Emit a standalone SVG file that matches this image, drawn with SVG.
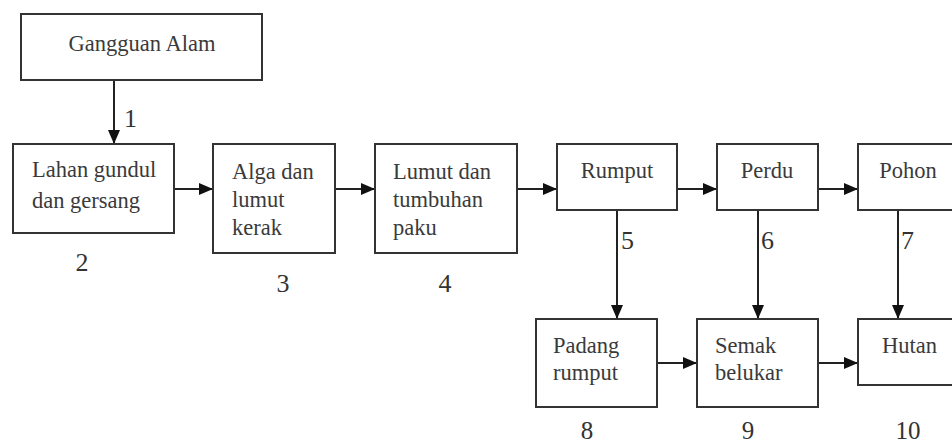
<svg xmlns="http://www.w3.org/2000/svg" width="952" height="446" viewBox="0 0 952 446">
<style>
.box{fill:#fff;stroke:#333;stroke-width:2}
.t{font-family:"Liberation Serif","Times New Roman",serif;font-size:22.5px;fill:#3a3a3a}
.n{font-family:"Liberation Serif","Times New Roman",serif;font-size:26px;fill:#333}
.b{font-size:25px}
.c{stroke:#222;stroke-width:2;fill:none}
</style>
<defs>
<marker id="ah" markerUnits="userSpaceOnUse" markerWidth="14" markerHeight="12" viewBox="0 0 14 12" refX="14" refY="6" orient="auto">
<path d="M0,0 L14,6 L0,12 Z" fill="#111"/>
</marker>
</defs>
<rect width="952" height="446" fill="#fff"/>
<g id="connectors">
<line class="c" x1="114" y1="80" x2="114" y2="144" marker-end="url(#ah)"/>
<line class="c" x1="174" y1="189" x2="213" y2="189" marker-end="url(#ah)"/>
<line class="c" x1="335" y1="189" x2="375" y2="189" marker-end="url(#ah)"/>
<line class="c" x1="517" y1="189" x2="557" y2="189" marker-end="url(#ah)"/>
<line class="c" x1="677" y1="189" x2="717" y2="189" marker-end="url(#ah)"/>
<line class="c" x1="818" y1="189" x2="858" y2="189" marker-end="url(#ah)"/>
<line class="c" x1="617" y1="210" x2="617" y2="319" marker-end="url(#ah)"/>
<line class="c" x1="758" y1="210" x2="758" y2="319" marker-end="url(#ah)"/>
<line class="c" x1="898" y1="210" x2="898" y2="319" marker-end="url(#ah)"/>
<line class="c" x1="657" y1="363" x2="697" y2="363" marker-end="url(#ah)"/>
<line class="c" x1="818" y1="363" x2="858" y2="363" marker-end="url(#ah)"/>
<text class="n" x="124" y="127">1</text>
<text class="n" x="621" y="249">5</text>
<text class="n" x="761" y="249">6</text>
<text class="n" x="901" y="249">7</text>
</g>
<g id="gangguan"><rect class="box" x="21" y="14" width="241" height="66"/><text class="t" x="142" y="51" text-anchor="middle">Gangguan Alam</text></g>
<g id="lahan"><rect class="box" x="13" y="144" width="161" height="89"/><text class="t" x="32" y="177">Lahan gundul</text><text class="t" x="32" y="208">dan gersang</text><text class="n" x="82" y="271" text-anchor="middle">2</text></g>
<g id="alga"><rect class="box" x="213" y="144" width="122" height="109"/><text class="t" x="232" y="179">Alga dan</text><text class="t" x="232" y="207">lumut</text><text class="t" x="232" y="235">kerak</text><text class="n" x="283" y="292" text-anchor="middle">3</text></g>
<g id="lumut"><rect class="box" x="375" y="144" width="142" height="109"/><text class="t" x="393" y="179">Lumut dan</text><text class="t" x="393" y="207">tumbuhan</text><text class="t" x="393" y="235">paku</text><text class="n" x="445" y="292" text-anchor="middle">4</text></g>
<g id="rumput"><rect class="box" x="557" y="144" width="120" height="66"/><text class="t" x="617" y="178" text-anchor="middle">Rumput</text></g>
<g id="perdu"><rect class="box" x="717" y="144" width="101" height="66"/><text class="t" x="767" y="178" text-anchor="middle">Perdu</text></g>
<g id="pohon"><rect class="box" x="858" y="144" width="110" height="66"/><text class="t" x="908" y="178" text-anchor="middle">Pohon</text></g>
<g id="padang"><rect class="box" x="536" y="319" width="121" height="88"/><text class="t" x="553" y="353">Padang</text><text class="t" x="553" y="380">rumput</text><text class="n b" x="587" y="439" text-anchor="middle">8</text></g>
<g id="semak"><rect class="box" x="697" y="319" width="121" height="88"/><text class="t" x="715" y="353">Semak</text><text class="t" x="715" y="380">belukar</text><text class="n b" x="748" y="439" text-anchor="middle">9</text></g>
<g id="hutan"><rect class="box" x="858" y="319" width="110" height="66"/><text class="t" x="882" y="353">Hutan</text><text class="n b" x="908" y="439" text-anchor="middle">10</text></g>
</svg>
